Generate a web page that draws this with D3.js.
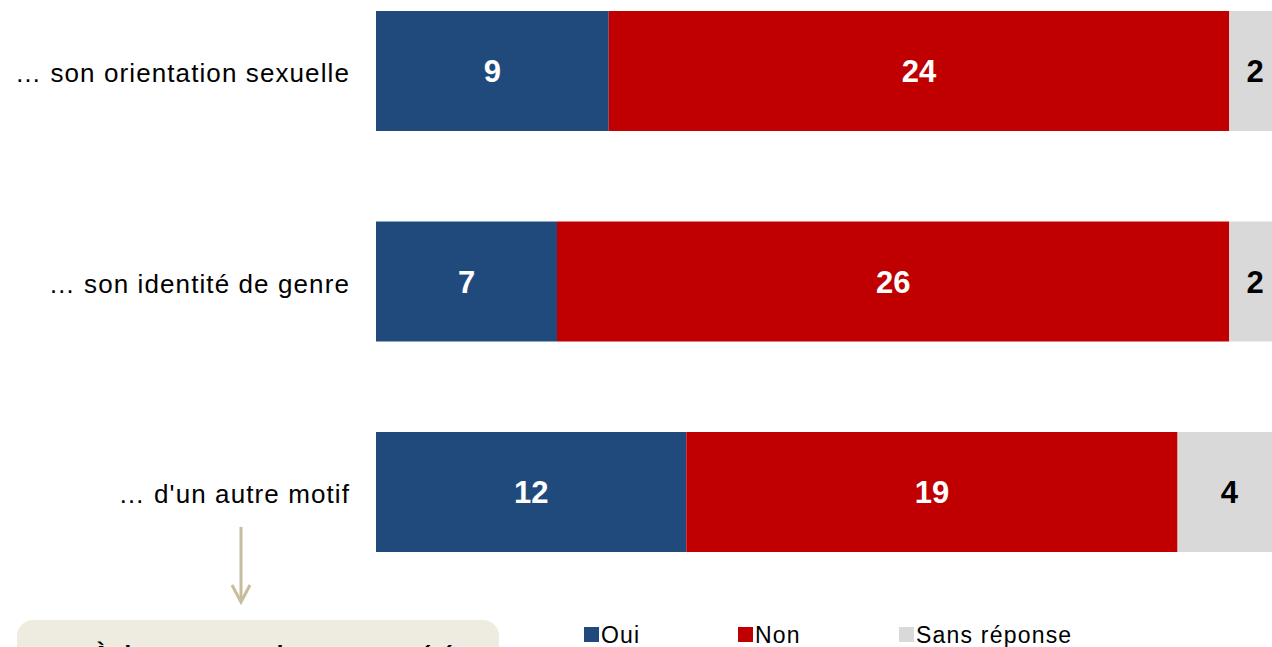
<!DOCTYPE html>
<html>
<head>
<meta charset="utf-8">
<script src="https://cdn.jsdelivr.net/npm/d3@7"></script>
<style>
  body { margin: 0; background: #fff; overflow: hidden; }
  svg { display: block; font-family: "Liberation Sans", Arial, sans-serif; }
</style>
</head>
<body>
<svg id="chart" width="1272" height="647"></svg>
<script>
'use strict';

// chart data
const categories = ["… son orientation sexuelle", "… son identité de genre", "… d'un autre motif"];
const seriesNames = ["Oui", "Non", "Sans réponse"];
const oui = [9, 7, 12];
const non = [24, 26, 19];
const sansReponse = [2, 2, 4];
const boxText = "… À titre personnel, avez-vous été";

const colors = ["#214a7c", "#c00000", "#d9d9d9"];
const labelColors = ["#fff", "#fff", "#000"];

const svg = d3.select("#chart");

const x = d3.scaleLinear().domain([0, 35]).range([376, 1281]);
const y = d3.scaleBand().domain(categories).range([11, 552]).paddingInner(0.43).paddingOuter(0);

const rows = categories.map((c, i) => {
    const vals = [oui[i], non[i], sansReponse[i]];
    let acc = 0;
    return vals.map((v, j) => {
        const seg = { cat: c, key: j, x0: acc, x1: acc + v, v: v };
        acc += v;
        return seg;
    });
});

const segs = rows.flat();

svg.selectAll("rect.bar")
    .data(segs)
    .enter()
    .append("rect")
    .attr("class", "bar")
    .attr("x", d => x(d.x0))
    .attr("y", d => y(d.cat))
    .attr("width", d => x(d.x1) - x(d.x0))
    .attr("height", y.bandwidth())
    .attr("fill", d => colors[d.key]);

svg.selectAll("text.val")
    .data(segs)
    .enter()
    .append("text")
    .attr("class", "val")
    .attr("x", d => (x(d.x0) + x(d.x1)) / 2)
    .attr("y", d => y(d.cat) + y.bandwidth() / 2)
    .attr("dy", "0.36em")
    .attr("text-anchor", "middle")
    .style("font-size", "31px")
    .style("font-weight", "bold")
    .attr("fill", d => labelColors[d.key])
    .text(d => d.v);

// category labels
svg.selectAll("text.cat")
    .data(categories)
    .enter()
    .append("text")
    .attr("class", "cat")
    .attr("x", 350)
    .attr("y", d => y(d) + y.bandwidth() / 2 + 11)
    .attr("text-anchor", "end")
    .style("font-size", "26px")
    .style("letter-spacing", "1.1px")
    .attr("fill", "#000")
    .text(d => d);

// arrow down to the box
svg.append("line")
    .attr("x1", 241).attr("x2", 241)
    .attr("y1", 527).attr("y2", 600)
    .attr("stroke", "#c5bd9b").attr("stroke-width", 3);
svg.append("path")
    .attr("d", "M232,585 L241,602 L250,585")
    .attr("fill", "none")
    .attr("stroke", "#c5bd9b").attr("stroke-width", 3);

// box (cut off at the bottom)
svg.append("rect")
    .attr("x", 17).attr("y", 620)
    .attr("width", 482).attr("height", 80)
    .attr("rx", 16)
    .attr("fill", "#eeebe0");
svg.append("text")
    .attr("x", 258).attr("y", 663)
    .attr("text-anchor", "middle")
    .style("font-size", "24px")
    .style("font-weight", "bold")
    .attr("fill", "#000")
    .text(boxText);

// legend
const legendX = [584, 738, 899];
const lg = svg.selectAll("g.legend")
    .data(seriesNames)
    .enter()
    .append("g")
    .attr("class", "legend")
    .attr("transform", (d, i) => "translate(" + legendX[i] + ",627)");
lg.append("rect")
    .attr("width", 15).attr("height", 15)
    .attr("fill", (d, i) => colors[i]);
lg.append("text")
    .attr("x", 17).attr("y", 16)
    .style("font-size", "23px")
    .style("letter-spacing", "1.2px")
    .attr("fill", "#000")
    .text(d => d);
</script>
</body>
</html>
